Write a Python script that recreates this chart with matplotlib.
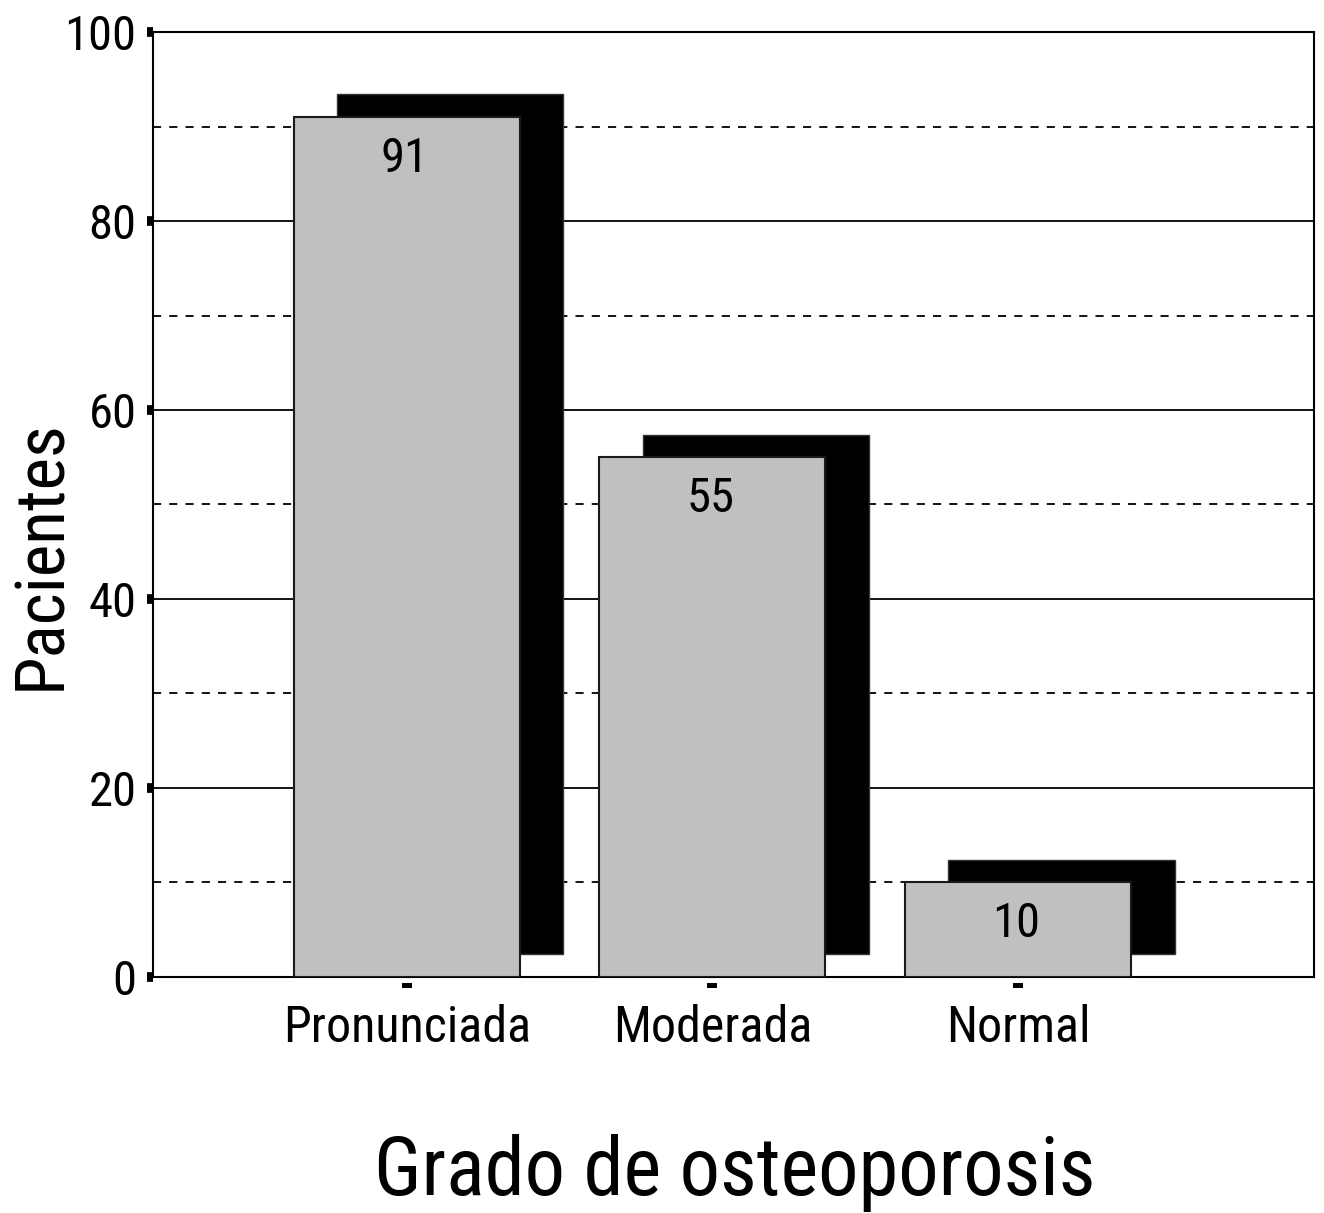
import numpy as np
import matplotlib.pyplot as plt
from matplotlib.path import Path

# --- Datos ---
categorias = ['Pronunciada', 'Moderada', 'Normal']
pacientes = [91, 55, 10]
yticks = [0, 20, 40, 60, 80, 100]

# fuente estrecha (tipo Arial Narrow)
plt.rcParams['font.family'] = ['Roboto Condensed', 'DejaVu Sans']

fig = plt.figure(figsize=(13.24, 12.13), dpi=100)
ax = fig.add_axes([0.1156, 0.1946, 0.8768, 0.779])

x = np.arange(len(categorias))
ancho = 0.74
dx, dy = 0.142, 2.4   # desplazamiento de la sombra

# sombra negra
ax.bar(x + dx, pacientes, width=ancho, bottom=dy, color='black',
       edgecolor='#333333', linewidth=1, zorder=3)
barras = ax.bar(x, pacientes, width=ancho, color='#c0c0c0',
                edgecolor='#1a1a1a', linewidth=1.5, zorder=4)

for b, v in zip(barras, pacientes):
    ax.annotate(str(v), (b.get_x() + b.get_width() / 2, v), xytext=(-1.5, -39.5),
                textcoords='offset points', ha='center', va='baseline',
                fontsize=35, zorder=5)

# rejilla: continua en 20, 40..., discontinua en 10, 30...
for yv in [20, 40, 60, 80]:
    ax.axhline(yv, color='black', lw=1.3, zorder=1)
for yv in [10, 30, 50, 70, 90]:
    ax.axhline(yv, color='black', lw=1.3, ls=(0, (4.5, 4.5)), zorder=1)

ax.set_xlim(-0.83, 2.968)
ax.set_ylim(0, 100)
ax.set_yticks(yticks)
ax.set_xticks(x)
ax.set_xticklabels(categorias)

for s in ax.spines.values():
    s.set_linewidth(1.5)

ax.tick_params(axis='y', direction='out', length=4, width=7, labelsize=35, pad=8)
ax.tick_params(axis='x', direction='out', length=15.8, width=0, labelsize=36, pad=4)

# marcas del eje x: rectangulo separado del eje
marca = Path([[-5, -6], [5, -6], [5, -11], [-5, -11], [-5, -6]])
for tl in ax.xaxis.get_ticklines():
    tl.set_marker(marca)

ax.set_ylabel('Pacientes', fontsize=50)
ax.yaxis.label.set_va('baseline')
ax.yaxis.set_label_coords(-0.080, 0.4466)
ax.set_xlabel('Grado de osteoporosis', fontsize=58)
ax.xaxis.label.set_va('baseline')
ax.xaxis.set_label_coords(0.501, -0.2307)

fig.savefig('out.png', dpi=100)
